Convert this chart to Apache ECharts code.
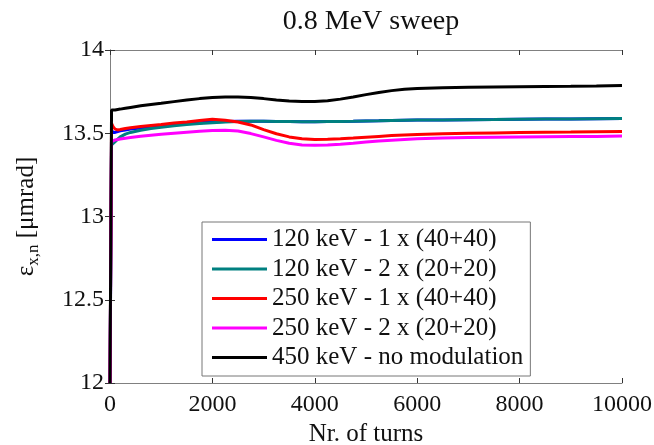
<!DOCTYPE html>
<html><head><meta charset="utf-8">
<script src="https://cdn.jsdelivr.net/npm/echarts@6/dist/echarts.min.js"></script>
<style>html,body{margin:0;padding:0;background:#fff}#c{width:654px;height:445px}</style>
</head><body><div id="c"></div>
<script>
const turns = [0, 30, 60, 100, 150, 200, 300, 400, 600, 800, 1000, 1250, 1500, 1750, 2000, 2250, 2500, 2750, 3000, 3250, 3500, 3750, 4000, 4250, 4500, 4750, 5000, 5250, 5500, 5750, 6000, 6500, 7000, 7500, 8000, 8500, 9000, 9500, 10000];
const names = ['120 keV - 1 x (40+40)', '120 keV - 2 x (20+20)', '250 keV - 1 x (40+40)', '250 keV - 2 x (20+20)', '450 keV - no modulation'];
const blue120x1 = [12, 13.52, 13.505, 13.505, 13.51, 13.515, 13.52, 13.525, 13.532, 13.54, 13.545, 13.552, 13.558, 13.563, 13.567, 13.57, 13.572, 13.572, 13.572, 13.571, 13.57, 13.569, 13.569, 13.57, 13.571, 13.572, 13.574, 13.575, 13.577, 13.578, 13.579, 13.58, 13.581, 13.582, 13.584, 13.585, 13.586, 13.587, 13.588];
const teal120x2 = [12, 13.43, 13.44, 13.45, 13.465, 13.478, 13.495, 13.505, 13.518, 13.528, 13.536, 13.545, 13.552, 13.558, 13.563, 13.567, 13.57, 13.572, 13.572, 13.571, 13.57, 13.569, 13.569, 13.57, 13.571, 13.572, 13.574, 13.575, 13.577, 13.578, 13.579, 13.58, 13.581, 13.582, 13.584, 13.585, 13.586, 13.587, 13.588];
const red250x1 = [12, 13.56, 13.54, 13.525, 13.52, 13.522, 13.528, 13.533, 13.54, 13.547, 13.553, 13.561, 13.568, 13.576, 13.584, 13.578, 13.568, 13.55, 13.522, 13.497, 13.478, 13.467, 13.463, 13.464, 13.467, 13.471, 13.476, 13.481, 13.486, 13.49, 13.493, 13.497, 13.5, 13.502, 13.504, 13.506, 13.507, 13.509, 13.51];
const mag250x2 = [12, 13.45, 13.455, 13.46, 13.462, 13.465, 13.47, 13.474, 13.482, 13.488, 13.494, 13.5, 13.506, 13.512, 13.516, 13.518, 13.513, 13.498, 13.478, 13.457, 13.44, 13.43, 13.428, 13.43, 13.434, 13.44, 13.447, 13.453, 13.458, 13.463, 13.467, 13.471, 13.474, 13.476, 13.478, 13.479, 13.48, 13.481, 13.483];
const black450 = [12, 13.64, 13.635, 13.64, 13.643, 13.645, 13.65, 13.655, 13.665, 13.673, 13.68, 13.69, 13.70, 13.708, 13.714, 13.718, 13.718, 13.714, 13.708, 13.70, 13.693, 13.69, 13.691, 13.695, 13.705, 13.718, 13.732, 13.745, 13.756, 13.764, 13.769, 13.773, 13.776, 13.778, 13.78, 13.781, 13.782, 13.784, 13.787];
const xTicks = [0, 2000, 4000, 6000, 8000, 10000];
const yTicks = [12, 12.5, 13, 13.5, 14];

const seriesData = [blue120x1, teal120x2, red250x1, mag250x2, black450];
const colors = ['#0000ff', '#008080', '#ff0000', '#ff00ff', '#000000'];
const FONT = '"Liberation Serif", "Times New Roman", serif';

const chart = echarts.init(document.getElementById('c'), null, {renderer: 'canvas'});
const axisCommon = {
  axisLine: {show: true, lineStyle: {color: '#808080', width: 1}},
  axisTick: {show: true, inside: true, length: 5, lineStyle: {color: '#333'}},
  splitLine: {show: false}
};
chart.setOption({
  animation: false,
  backgroundColor: '#fff',
  title: {
    text: '0.8 MeV sweep', left: 366, top: 3, textAlign: 'center',
    textStyle: {fontFamily: FONT, fontSize: 28, fontWeight: 'normal', color: '#111'}
  },
  grid: {left: 110, right: 32, top: 50, bottom: 62, containLabel: false, outerBoundsMode: 'none'},
  xAxis: [
    Object.assign({}, axisCommon, {
      type: 'value', min: 0, max: 10000, interval: 2000, position: 'bottom',
      name: 'Nr. of turns', nameLocation: 'middle', nameGap: 38,
      nameTextStyle: {fontFamily: FONT, fontSize: 25, color: '#111'},
      axisLabel: {fontFamily: FONT, fontSize: 24, color: '#111', margin: 10,
        formatter: v => xTicks.includes(v) ? String(v) : ''}
    }),
    Object.assign({}, axisCommon, {
      type: 'value', min: 0, max: 10000, interval: 2000, position: 'top',
      axisLabel: {show: false}
    })
  ],
  yAxis: [
    Object.assign({}, axisCommon, {
      type: 'value', min: 12, max: 14, interval: 0.5, position: 'left',
      name: '{e|ε}{s|x,n}{e| [μmrad]}', nameLocation: 'middle', nameRotate: 90, nameGap: 68,
      nameTextStyle: {fontFamily: FONT, fontSize: 25, color: '#111',
        rich: {
          e: {fontFamily: FONT, fontSize: 25, color: '#111'},
          s: {fontFamily: FONT, fontSize: 17, color: '#111', padding: [15, 0, 0, 0]}
        }},
      axisLabel: {fontFamily: FONT, fontSize: 24, color: '#111', margin: 6,
        formatter: v => yTicks.includes(v) ? String(v) : ''}
    }),
    Object.assign({}, axisCommon, {
      type: 'value', min: 12, max: 14, interval: 0.5, position: 'right',
      axisLabel: {show: false}
    })
  ],
  legend: {
    orient: 'vertical', left: 202, top: 222,
    data: names,
    icon: 'rect', itemWidth: 55, itemHeight: 3, itemGap: 4.5,
    padding: [5, 7, 6, 10],
    backgroundColor: '#fff', borderColor: '#777', borderWidth: 1,
    textStyle: {fontFamily: FONT, fontSize: 25, color: '#111', lineHeight: 25}
  },
  series: names.map((n, i) => ({
    name: n, type: 'line', xAxisIndex: 0, yAxisIndex: 0,
    data: turns.map((t, j) => [t, seriesData[i][j]]),
    showSymbol: false, symbol: 'none',
    smooth: false,
    lineStyle: {color: colors[i], width: 3},
    itemStyle: {color: colors[i]},
    z: 2 + i
  }))
});
</script></body></html>
